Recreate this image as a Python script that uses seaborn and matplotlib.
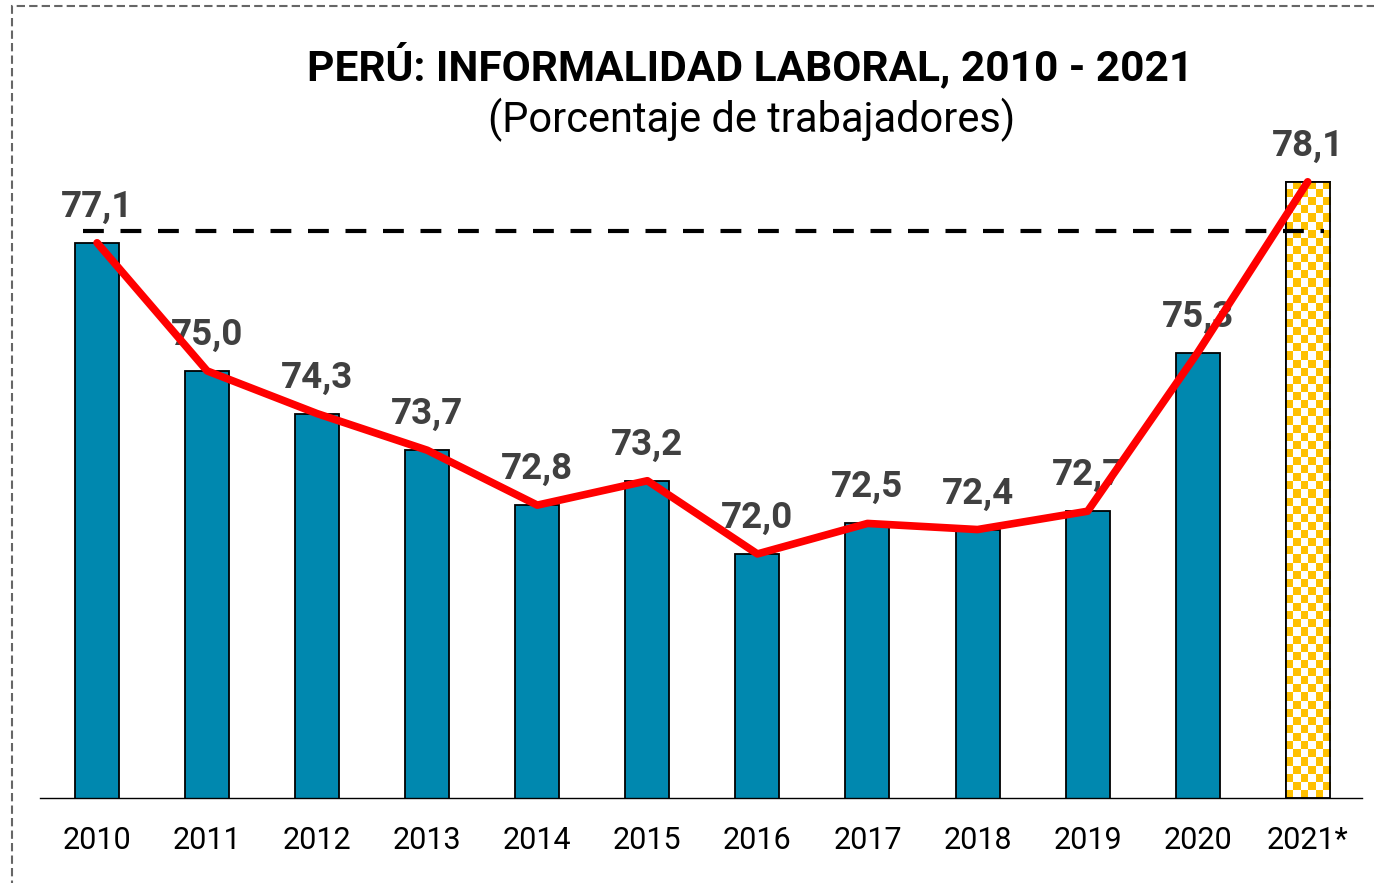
import numpy as np
import pandas as pd
import matplotlib.pyplot as plt
import seaborn as sns
from matplotlib.patches import Rectangle

# data
years = ['2010', '2011', '2012', '2013', '2014', '2015',
         '2016', '2017', '2018', '2019', '2020', '2021*']
informalidad = [77.1, 75.0, 74.3, 73.7, 72.8, 73.2,
                72.0, 72.5, 72.4, 72.7, 75.3, 78.1]
reference_level = 77.3

df = pd.DataFrame({'year': years, 'value': informalidad})

sns.set_style('white')
plt.rcParams['font.family'] = ['Roboto', 'DejaVu Sans']

fig = plt.figure(figsize=(13.74, 8.83), dpi=100)
ax = fig.add_axes([0.029, 0.0963, 0.962, 0.76])

# bars
sns.barplot(data=df, x='year', y='value', color='#0088AF', saturation=1,
            width=0.4, edgecolor='black', linewidth=1.3, ax=ax, zorder=2)
ax.set_ylim(68, 79)
ax.set_xlim(-0.52, 11.49)

# 2021 bar: yellow / white checkerboard inside the bar outline
last = ax.patches[-1]
last.set_facecolor('white')
checker = (np.indices((76, 6)).sum(axis=0) % 2)
cmap = plt.matplotlib.colors.ListedColormap(['white', '#FFC000'])
x0, w = last.get_x(), last.get_width()
img = ax.imshow(checker, cmap=cmap, interpolation='nearest', aspect='auto',
                extent=[x0, x0 + w, 68, last.get_height()], zorder=2.1)
img.set_clip_path(last)
ax.add_patch(Rectangle((x0, 68), w, last.get_height() - 68, fill=False,
                       edgecolor='black', linewidth=1.3, zorder=2.2))

# reference dashed line
ax.hlines(reference_level, -0.13, 11.15, colors='black', linestyles=(0, (5, 4)),
          linewidth=3, zorder=3)

# value labels
for i, v in enumerate(informalidad):
    ax.annotate(f'{v:.1f}'.replace('.', ','), (i, v), xytext=(0, 13),
                textcoords='offset points', ha='center', va='bottom',
                fontsize=26.5, fontweight='bold', color='#404040', zorder=4)

# red trend line on top
sns.lineplot(data=df, x='year', y='value', color='#FF0000', linewidth=5.5,
             ax=ax, zorder=5, solid_capstyle='round')

ax.set_xlabel('')
ax.set_ylabel('')
ax.set_yticks([])
ax.tick_params(axis='x', length=0, labelsize=22, pad=20, colors='black')
for s in ['top', 'right', 'left']:
    ax.spines[s].set_visible(False)
ax.spines['bottom'].set_color('black')
ax.spines['bottom'].set_linewidth(1)

# titles
fig.text(0.546, 0.925, 'PERÚ: INFORMALIDAD LABORAL, 2010 - 2021', ha='center',
         va='center', fontsize=30.5, fontweight='bold', color='black')
fig.text(0.547, 0.864, '(Porcentaje de trabajadores)', ha='center',
         va='center', fontsize=30, color='black')

# dashed outer frame
fig.patches.append(Rectangle((12 / 1374, -0.01), 1.0, 1.003, transform=fig.transFigure,
                             fill=False, edgecolor='#666666', linewidth=1.5,
                             linestyle=(0, (4, 2))))

fig.savefig('out.png', dpi=100)
